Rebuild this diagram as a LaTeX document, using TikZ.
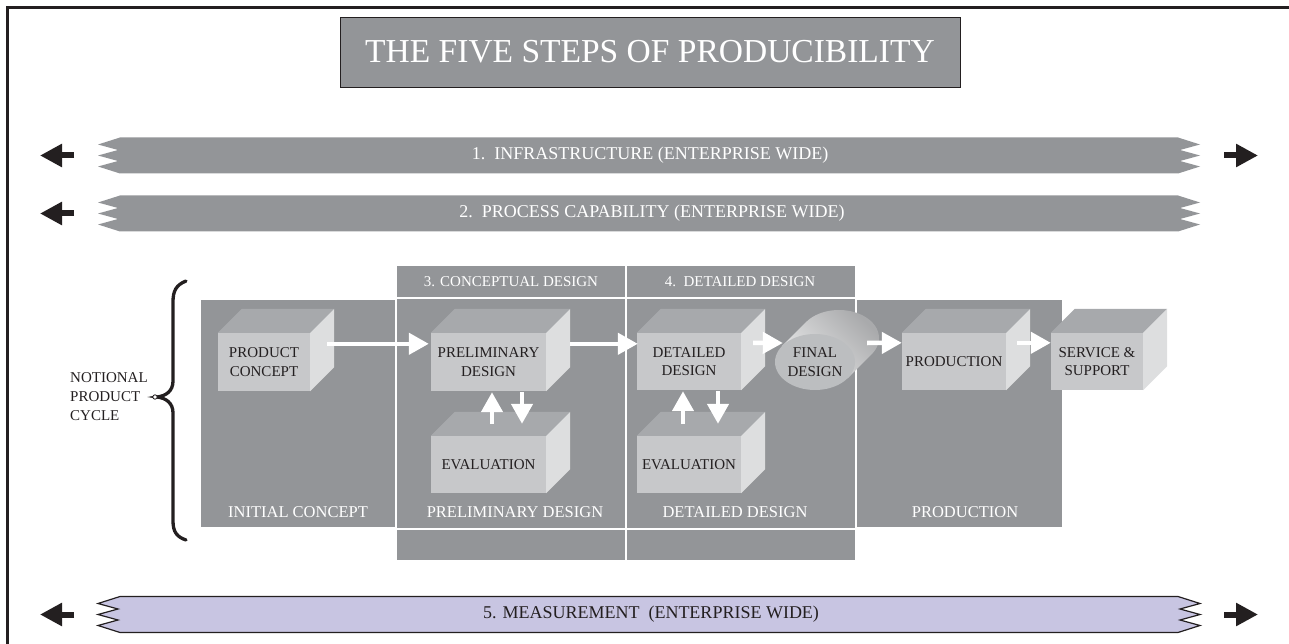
\documentclass[tikz,border=0pt]{standalone}
\usepackage{fontspec}
\setmainfont{Liberation Serif}
\usetikzlibrary{arrows.meta,shapes.geometric}
\definecolor{panelgray}{RGB}{147,149,152}
\definecolor{cfront}{RGB}{199,200,202}
\definecolor{ctop}{RGB}{167,169,172}
\definecolor{cside}{RGB}{221,222,223}
\definecolor{ink}{RGB}{35,31,32}
\definecolor{lav}{RGB}{200,197,226}
\definecolor{cylfront}{RGB}{188,190,192}
\newcommand\mycube[6]{%
  \node[cubefront, minimum width=#4pt, minimum height=#5pt] (#1) at (#2,#3) {#6};
  \fill[ctop] (#1.north west) -- ++(24,-24) -- ([shift={(24,-24)}]#1.north east) -- (#1.north east) -- cycle;
  \fill[cside] (#1.north east) -- ++(24,-24) -- ([shift={(24,-24)}]#1.south east) -- (#1.south east) -- cycle;
}
\begin{document}
\begin{tikzpicture}[x=1pt,y=-1pt,
  cubefront/.style={fill=cfront, inner sep=0pt, align=center, text=ink, font=\fontsize{15}{18.5}\selectfont},
  warrow/.style={white, line width=4.5pt, -{Triangle[length=20pt,width=21pt]}},
  barrow/.style={ink, line width=6pt, -{Triangle[length=22pt,width=22pt]}},
  panel/.style={fill=panelgray, draw=white, line width=2pt},
  plabel/.style={text=white, inner sep=0pt, font=\fontsize{16.5}{19}\selectfont},
  hlabel/.style={text=white, inner sep=0pt, font=\fontsize{15}{18}\selectfont},
  bandtext/.style={inner sep=0pt, font=\fontsize{18}{21}\selectfont},
  band/.pic={\path[pic actions] (120,0) -- (1178,0) -- (1200,7) -- (1180,12.5) -- (1200,18) -- (1180,23.5) -- (1200,29) -- (1178,36) -- (120,36) -- (98,29) -- (118,23.5) -- (98,18) -- (118,12.5) -- (98,7) -- cycle;}
]
\useasboundingbox (0,0) rectangle (1289,644);
% frame
\draw[ink, line width=3pt] (7.5,644) -- (7.5,8) -- (1289,8);
% title
\node[draw=ink, line width=0.8pt, fill=panelgray, minimum width=620pt, minimum height=70pt, inner sep=0pt, text=white, font=\fontsize{33.5}{40}\selectfont] (title) at (650,52) {THE FIVE STEPS OF PRODUCIBILITY};
% bands
\pic[fill=panelgray] at (0,137.5) {band};
\node[bandtext, text=white] (b1) at (650,155.5) {1.\ \ INFRASTRUCTURE (ENTERPRISE WIDE)};
\pic[fill=panelgray] at (0,195.5) {band};
\node[bandtext, text=white] (b2) at (652,213.5) {2.\ \ PROCESS CAPABILITY (ENTERPRISE WIDE)};
\pic[fill=lav, draw=ink, line width=1.2pt] at (0,596.5) {band};
\node[bandtext, text=ink] (b5) at (651,614.5) {5. MEASUREMENT\ \ (ENTERPRISE WIDE)};
% black arrows
\coordinate (l1a) at (74,155.5); \coordinate (l1b) at (40,155.5);
\coordinate (r1a) at (1224,155.5); \coordinate (r1b) at (1258,155.5);
\coordinate (l2a) at (74,213.5); \coordinate (l2b) at (40,213.5);
\coordinate (l5a) at (74,614.5); \coordinate (l5b) at (40,614.5);
\coordinate (r5a) at (1224,614.5); \coordinate (r5b) at (1258,614.5);
\draw[barrow] (l1a) -- (l1b);
\draw[barrow] (r1a) -- (r1b);
\draw[barrow] (l2a) -- (l2b);
\draw[barrow] (l5a) -- (l5b);
\draw[barrow] (r5a) -- (r5b);
% brace and notional label
\draw[ink, line width=3.3pt, line cap=round] (186,281) .. controls (176,285) and (173,291) .. (173,302) -- (173,381) .. controls (173,391) and (166,396) .. (157,397) .. controls (166,398) and (173,403) .. (173,413) -- (173,521) .. controls (173,532) and (177,537) .. (186,540);
\draw[ink, line width=0.8pt, fill=white] (155,397) circle[radius=2.2pt];
\node[align=left, anchor=west, inner sep=0pt, text=ink, font=\fontsize{15}{19}\selectfont] (nt) at (70,397) {NOTIONAL\\PRODUCT\\CYCLE};
% panels
\draw[panel] (200,299) rectangle (396,528);
\draw[panel] (856,299) rectangle (1063,528);
\draw[panel] (396,265) rectangle (626,298);
\draw[panel] (396,298) rectangle (626,529);
\draw[panel] (396,529) rectangle (626,561);
\draw[panel] (626,265) rectangle (856,298);
\draw[panel] (626,298) rectangle (856,529);
\draw[panel] (626,529) rectangle (856,561);
\node[hlabel] (h3) at (511,281.5) {3. CONCEPTUAL DESIGN};
\node[hlabel] (h4) at (740,281.5) {4.\ \ DETAILED DESIGN};
\node[plabel] (lic) at (298,512) {INITIAL CONCEPT};
\node[plabel] (lpd) at (515,512) {PRELIMINARY DESIGN};
\node[plabel] (ldd) at (735,512) {DETAILED DESIGN};
\node[plabel] (lpr) at (965,512) {PRODUCTION};
% cubes
\mycube{pc}{264}{362}{92}{58}{PRODUCT\\CONCEPT}
\mycube{pd}{488.5}{362}{115}{58}{PRELIMINARY\\DESIGN}
\mycube{evA}{488.5}{464.5}{115}{57}{EVALUATION}
\mycube{dd}{689}{361.5}{104}{57}{DETAILED\\DESIGN}
\mycube{evB}{689}{464.5}{104}{57}{EVALUATION}
\mycube{pr}{954}{361.5}{104}{57}{PRODUCTION}
\mycube{ss}{1097}{361.5}{92}{57}{SERVICE \&\\SUPPORT}
% cylinder
\shade[left color=cside!70!white, right color=cfront!85!black, shading angle=135]
  (782.2,345.9) -- (806.2,321.9)
  -- plot[domain=215:395, samples=50] ({839+40*cos(\x)}, {338+28*sin(\x)})
  -- (847.8,378.1) -- cycle;
\node[ellipse, fill=cylfront, minimum width=80pt, minimum height=56pt, inner sep=0pt, align=center, text=ink, font=\fontsize{15}{18.5}\selectfont] (fd) at (815,362) {FINAL\\DESIGN};
% white arrows
\draw[warrow] ([xshift=17pt,yshift=-11pt]pc.north east) -- ([xshift=-2pt,yshift=-11pt]pd.north west);
\draw[warrow] ([xshift=24pt,yshift=-11pt]pd.north east) -- ([xshift=1pt,yshift=-11pt]dd.north west);
\draw[warrow] ([xshift=12pt,yshift=-10pt]dd.north east) -- ([xshift=8pt,yshift=19pt]fd.west);
\draw[warrow] ([xshift=12pt,yshift=19pt]fd.east) -- ([yshift=-10pt]pr.north west);
\draw[warrow] ([xshift=11pt,yshift=-10pt]pr.north east) -- ([yshift=-10pt]ss.north west);
\draw[warrow] ([xshift=3.5pt,yshift=12pt]evA.north) -- ([xshift=3.5pt,yshift=-1pt]pd.south);
\draw[warrow] ([xshift=33.5pt,yshift=-1pt]pd.south) -- ([xshift=33.5pt,yshift=12pt]evA.north);
\draw[warrow] ([xshift=-6pt,yshift=12pt]evB.north) -- ([xshift=-6pt,yshift=-1pt]dd.south);
\draw[warrow] ([xshift=29pt,yshift=-1pt]dd.south) -- ([xshift=29pt,yshift=12pt]evB.north);
\end{tikzpicture}
\end{document}
